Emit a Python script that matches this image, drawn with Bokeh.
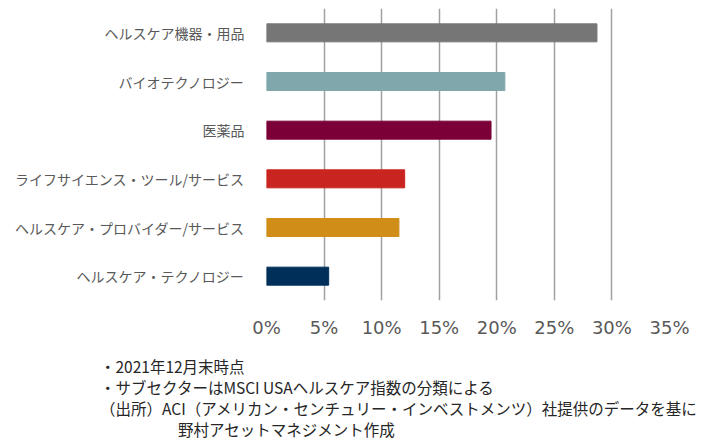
from bokeh.plotting import figure
from bokeh.models import FactorRange, FixedTicker, PrintfTickFormatter, ColumnDataSource, Div
from bokeh.layouts import column
from bokeh.embed import file_html
from bokeh.resources import INLINE

categories = ["ヘルスケア機器・用品", "バイオテクノロジー", "医薬品",
              "ライフサイエンス・ツール/サービス", "ヘルスケア・プロバイダー/サービス",
              "ヘルスケア・テクノロジー"]
values = [28.7, 20.7, 19.5, 12.0, 11.5, 5.4]
colors = ["#767676", "#80A8AC", "#7C0038", "#C9241F", "#D08E18", "#00305A"]
x_ticks = [0, 5, 10, 15, 20, 25, 30, 35]
notes = ["・2021年12月末時点",
         "・サブセクターはMSCI USAヘルスケア指数の分類による",
         "（出所）ACI（アメリカン・センチュリー・インベストメンツ）社提供のデータを基に",
         "野村アセットマネジメント作成"]

W = 707
PH = 356                      # figure height; notes go below it
FL, FR, FT, FB = 266, 669, 8, 300   # frame edges in pixels
XMAX = 35

src = ColumnDataSource(dict(cat=categories, val=values, color=colors))

p = figure(width=W, height=PH, output_backend="svg", toolbar_location=None,
           y_range=FactorRange(factors=list(reversed(categories))),
           x_range=(0, XMAX),
           min_border_left=FL, min_border_right=W - FR, min_border_top=FT, min_border_bottom=PH - FB)
p.outline_line_color = None
p.background_fill_color = "white"
p.border_fill_color = "white"

p.hbar(y="cat", right="val", left=0, height=0.37, color="color", source=src)

p.xaxis.ticker = FixedTicker(ticks=x_ticks)
p.xaxis.formatter = PrintfTickFormatter(format="%d%%")
p.xaxis.axis_line_color = None
p.xaxis.major_tick_line_color = None
p.xaxis.minor_tick_line_color = None
p.xaxis.major_label_standoff = 10
p.xaxis.major_label_text_font = "DejaVu Sans"
p.xaxis.major_label_text_font_size = "18px"
p.xaxis.major_label_text_color = "#595959"

p.yaxis.axis_line_color = None
p.yaxis.major_tick_line_color = None
p.yaxis.minor_tick_line_color = None
p.yaxis.major_label_standoff = 16
p.yaxis.major_label_text_font = "Noto Sans CJK JP"
p.yaxis.major_label_text_font_size = "14px"
p.yaxis.major_label_text_color = "#595959"

p.ygrid.grid_line_color = None
p.xgrid.ticker = FixedTicker(ticks=x_ticks)
p.xgrid.grid_line_color = "#a0a0a0"
p.xgrid.grid_line_width = 1.5

indent = [0, 0, 0, 78]
lines_html = "".join(
    f'<div style="padding-left:{ind}px;">{t}</div>' for t, ind in zip(notes, indent))
div = Div(text=lines_html, width=W, height=444 - PH, margin=0,
          styles={"font-family": "'Noto Sans CJK JP'", "font-size": "15.5px",
                  "color": "#262626", "line-height": "21px", "white-space": "nowrap",
                  "padding-left": "100px", "box-sizing": "border-box",
                  "background-color": "white"})

layout = column(p, div, spacing=0)
open("out.html", "w").write(file_html(layout, INLINE))
